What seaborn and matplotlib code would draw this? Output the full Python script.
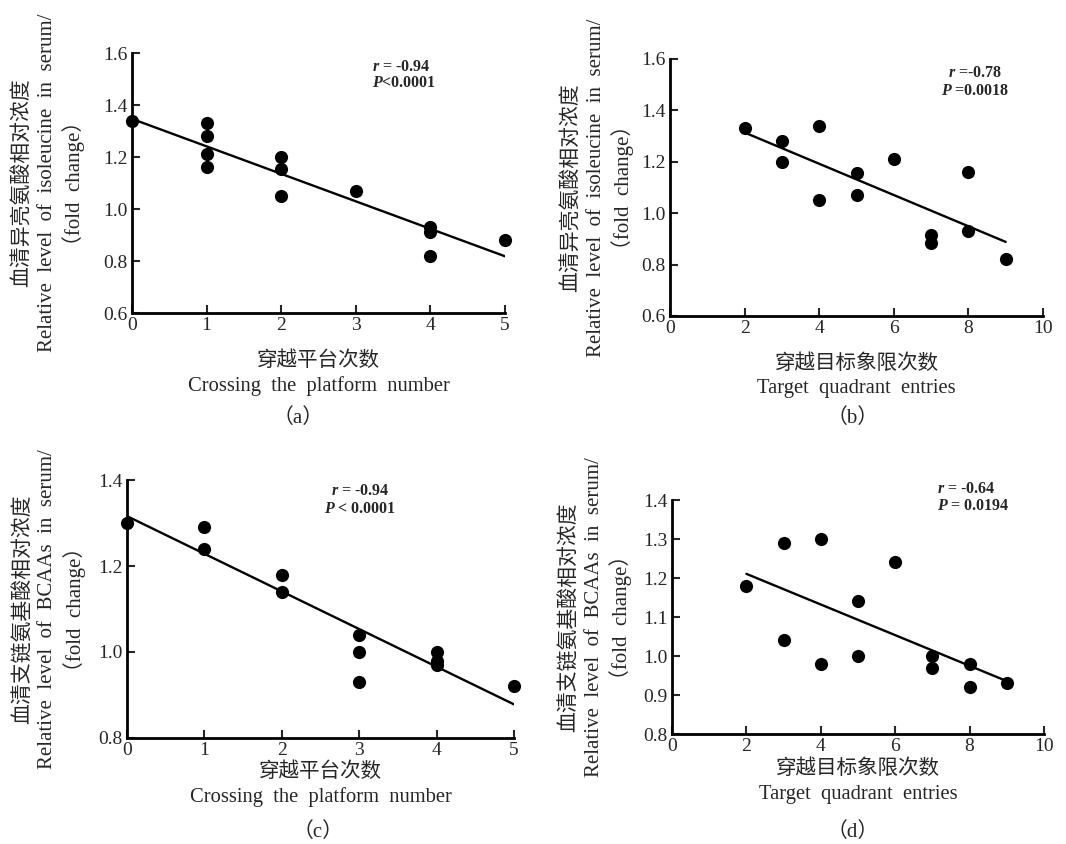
import numpy as np
import pandas as pd
import matplotlib
matplotlib.use("Agg")
import matplotlib.pyplot as plt
import seaborn as sns

# data
cross_a = [0, 1, 1, 1, 1, 2, 2, 2, 3, 4, 4, 4, 5]
ile_a = [1.34, 1.33, 1.28, 1.21, 1.16, 1.20, 1.155, 1.05, 1.07, 0.93, 0.91, 0.82, 0.88]

quad_b = [2, 3, 3, 4, 4, 5, 5, 6, 7, 7, 8, 8, 9]
ile_b = [1.33, 1.28, 1.20, 1.34, 1.05, 1.155, 1.07, 1.21, 0.915, 0.885, 1.16, 0.93, 0.82]

cross_c = [0, 1, 1, 2, 2, 3, 3, 3, 4, 4, 4, 5]
bcaa_c = [1.30, 1.29, 1.24, 1.18, 1.14, 1.04, 1.00, 0.93, 1.00, 0.98, 0.97, 0.92]

quad_d = [2, 3, 3, 4, 4, 5, 5, 6, 7, 7, 8, 8, 9]
bcaa_d = [1.18, 1.29, 1.04, 1.30, 0.98, 1.14, 1.00, 1.24, 1.00, 0.97, 0.98, 0.92, 0.93]

# (letter, rest of line) for the r / P annotations
stats_a = [("r", " = -0.94"), ("P", "<0.0001")]
stats_b = [("r", " =-0.78"), ("P", " =0.0018")]
stats_c = [("r", " = -0.94"), ("P", " < 0.0001")]
stats_d = [("r", " = -0.64"), ("P", " = 0.0194")]

xlab_cross = "穿越平台次数\nCrossing  the  platform  number"
xlab_quad = "穿越目标象限次数\nTarget  quadrant  entries"
ylab_ile = "血清异亮氨酸相对浓度\nRelative  level  of  isoleucine  in  serum/\n（fold  change）"
ylab_bcaa = "血清支链氨基酸相对浓度\nRelative  level  of  BCAAs  in  serum/\n（fold  change）"

sns.set_style("ticks")
plt.rcParams["font.family"] = ["Liberation Serif", "Noto Sans CJK SC"]
plt.rcParams["mathtext.fontset"] = "custom"
plt.rcParams["mathtext.rm"] = "Liberation Serif"
plt.rcParams["mathtext.it"] = "Liberation Serif:italic"
plt.rcParams["mathtext.bf"] = "Liberation Serif:bold"
plt.rcParams["mathtext.bfit"] = "Liberation Serif:bold:italic"

W, H = 1066, 844
fig = plt.figure(figsize=(W / 100, H / 100), dpi=100)


def add_ax(left, top, right, bottom):
    return fig.add_axes([left / W, 1 - bottom / H, (right - left) / W, (bottom - top) / H])


def panel(ax, x, y, xlim, xticks, ylim, yticks, xlab, ylab, xpad, ypad):
    df = pd.DataFrame({"x": x, "y": y})
    sns.regplot(
        data=df, x="x", y="y", ax=ax, ci=None,
        scatter_kws=dict(s=90, color="black", linewidths=0, alpha=1, clip_on=False, zorder=3),
        line_kws=dict(color="black", lw=1.7),
    )
    ax.set_xlim(xlim)
    ax.set_ylim(ylim)
    ax.set_xticks(xticks)
    ax.set_yticks(yticks)
    ax.set_yticklabels([f"{v:.1f}" for v in yticks])
    ax.tick_params(direction="in", length=6, width=1.5, labelsize=14, pad=3)
    sns.despine(ax=ax)
    for s in ["left", "bottom"]:
        ax.spines[s].set_linewidth(2)
        ax.spines[s].set_color("black")
    ax.set_xlabel(xlab, fontsize=14.8, labelpad=xpad, linespacing=1.4)
    ax.set_ylabel(ylab, fontsize=15, labelpad=ypad, linespacing=1.33)


def stat_text(ax, x, y1, y2, lines, ha):
    for (letter, rest), yy in zip(lines, [y1, y2]):
        ax.text(x, yy, r"$\mathbfit{" + letter + "}$" + rest, ha=ha, va="center",
                fontsize=11.5, fontweight="bold")


ax_a = add_ax(132, 53, 505, 313)
panel(ax_a, cross_a, ile_a, (0, 5), range(0, 6), (0.6, 1.6), np.arange(0.6, 1.61, 0.2),
      xlab_cross, ylab_ile, 12, 13)
stat_text(ax_a, 3.22, 1.546, 1.485, stats_a, "left")

ax_b = add_ax(670, 59, 1043, 316)
panel(ax_b, quad_b, ile_b, (0, 10), range(0, 11, 2), (0.6, 1.6), np.arange(0.6, 1.61, 0.2),
      xlab_quad, ylab_ile, 12, 5)
stat_text(ax_b, 8.18, 1.546, 1.475, stats_b, "center")

ax_c = add_ax(127, 480, 514, 738)
panel(ax_c, cross_c, bcaa_c, (0, 5), range(0, 6), (0.8, 1.4), np.arange(0.8, 1.41, 0.2),
      xlab_cross, ylab_bcaa, 2, 9)
stat_text(ax_c, 3.01, 1.374, 1.333, stats_c, "center")

ax_d = add_ax(672, 500, 1044, 734)
panel(ax_d, quad_d, bcaa_d, (0, 10), range(0, 11, 2), (0.8, 1.4), np.arange(0.8, 1.41, 0.1),
      xlab_quad, ylab_bcaa, 3, 8)
stat_text(ax_d, 7.12, 1.428, 1.385, stats_d, "left")

for lab, px, py in [("（a）", 298, 418), ("（b）", 853, 418), ("（c）", 318, 832), ("（d）", 853, 832)]:
    fig.text(px / W, 1 - py / H, lab, ha="center", va="center", fontsize=15)

fig.savefig("out.png", dpi=100)
